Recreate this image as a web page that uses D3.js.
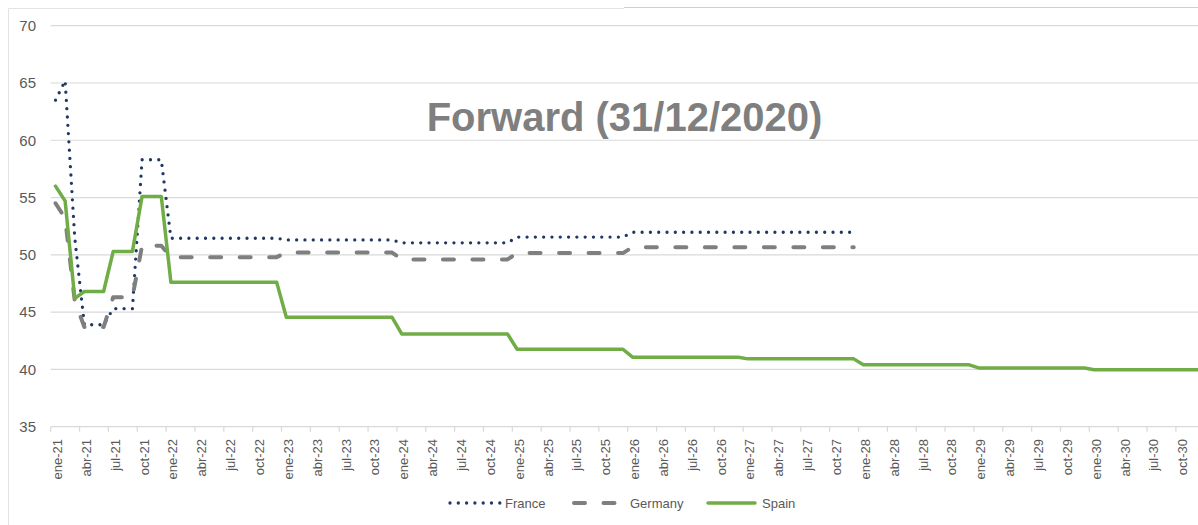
<!DOCTYPE html>
<html>
<head>
<meta charset="utf-8">
<script src="https://cdn.jsdelivr.net/npm/d3@7"></script>
<style>
  body { margin: 0; background: #fff; }
  svg { display: block; font-family: "Liberation Sans", Arial, sans-serif; }
</style>
</head>
<body>
<svg id="chart" width="1198" height="525"></svg>
<script>
// month names / years used for the category axis
var monthNames = ["ene","feb","mar","abr","may","jun","jul","ago","sep","oct","nov","dic"];
var years = ["21","22","23","24","25","26","27","28","29","30"];
var yTicks = [35, 40, 45, 50, 55, 60, 65, 70];

// forward prices, one value per month (ene-21 ...)
var france = [
  63.5, 65.2, 51.5, 43.9, 43.9, 43.9, 45.3, 45.3, 45.3, 58.3, 58.3, 58.3,
  51.45, 51.45, 51.45, 51.45, 51.45, 51.45, 51.45, 51.45, 51.45, 51.45, 51.45, 51.45,
  51.3, 51.3, 51.3, 51.3, 51.3, 51.3, 51.3, 51.3, 51.3, 51.3, 51.3, 51.3,
  51.05, 51.05, 51.05, 51.05, 51.05, 51.05, 51.05, 51.05, 51.05, 51.05, 51.05, 51.05,
  51.55, 51.55, 51.55, 51.55, 51.55, 51.55, 51.55, 51.55, 51.55, 51.55, 51.55, 51.55,
  51.97, 51.97, 51.97, 51.97, 51.97, 51.97, 51.97, 51.97, 51.97, 51.97, 51.97, 51.97,
  51.97, 51.97, 51.97, 51.97, 51.97, 51.97, 51.97, 51.97, 51.97, 51.97, 51.97, 51.97
];
var germany = [
  54.5, 53.2, 46.0, 43.7, 43.7, 43.7, 46.3, 46.3, 46.3, 50.8, 50.8, 50.8,
  49.8, 49.8, 49.8, 49.8, 49.8, 49.8, 49.8, 49.8, 49.8, 49.8, 49.8, 49.8,
  50.2, 50.2, 50.2, 50.2, 50.2, 50.2, 50.2, 50.2, 50.2, 50.2, 50.2, 50.2,
  49.6, 49.6, 49.6, 49.6, 49.6, 49.6, 49.6, 49.6, 49.6, 49.6, 49.6, 49.6,
  50.15, 50.15, 50.15, 50.15, 50.15, 50.15, 50.15, 50.15, 50.15, 50.15, 50.15, 50.15,
  50.67, 50.67, 50.67, 50.67, 50.67, 50.67, 50.67, 50.67, 50.67, 50.67, 50.67, 50.67,
  50.67, 50.67, 50.67, 50.67, 50.67, 50.67, 50.67, 50.67, 50.67, 50.67, 50.67, 50.67
];
var spain = [
  56.0, 54.7, 46.2, 46.8, 46.8, 46.8, 50.3, 50.3, 50.3, 55.1, 55.1, 55.1,
  47.6, 47.6, 47.6, 47.6, 47.6, 47.6, 47.6, 47.6, 47.6, 47.6, 47.6, 47.6,
  44.55, 44.55, 44.55, 44.55, 44.55, 44.55, 44.55, 44.55, 44.55, 44.55, 44.55, 44.55,
  43.1, 43.1, 43.1, 43.1, 43.1, 43.1, 43.1, 43.1, 43.1, 43.1, 43.1, 43.1,
  41.76, 41.76, 41.76, 41.76, 41.76, 41.76, 41.76, 41.76, 41.76, 41.76, 41.76, 41.76,
  41.07, 41.07, 41.07, 41.07, 41.07, 41.07, 41.07, 41.07, 41.07, 41.07, 41.07, 41.07,
  40.92, 40.92, 40.92, 40.92, 40.92, 40.92, 40.92, 40.92, 40.92, 40.92, 40.92, 40.92,
  40.4, 40.4, 40.4, 40.4, 40.4, 40.4, 40.4, 40.4, 40.4, 40.4, 40.4, 40.4,
  40.13, 40.13, 40.13, 40.13, 40.13, 40.13, 40.13, 40.13, 40.13, 40.13, 40.13, 40.13,
  39.97, 39.97, 39.97, 39.97, 39.97, 39.97, 39.97, 39.97, 39.97, 39.97, 39.97, 39.97
];

var categories = [];
years.forEach(function(yy){
  monthNames.forEach(function(m){ categories.push(m + "-" + yy); });
});

var width = 1198, height = 525;
var svg = d3.select("#chart");

// plot area (the right side is cut off in the original)
var left = 50.7, monthW = 9.617;
var x = d3.scaleBand().domain(categories).range([left, left + categories.length*monthW]).padding(0);
var y = d3.scaleLinear().domain([35, 70]).range([426.7, 25.7]);
var bw = x.bandwidth();

// outer frame
svg.append("path")
  .attr("d", "M8.5," + height + "V8.5H624")
  .attr("fill", "none").attr("stroke", "#e3e3e3").attr("stroke-width", 1);
svg.append("line")
  .attr("x1", 624).attr("x2", width).attr("y1", 7.5).attr("y2", 7.5)
  .attr("stroke", "#cfcfcf").attr("stroke-width", 1);

// gridlines
svg.append("g").selectAll("line")
  .data(yTicks.filter(function(t){ return t > 35; }))
  .enter().append("line")
    .attr("x1", left).attr("x2", width)
    .attr("y1", function(d){ return y(d); }).attr("y2", function(d){ return y(d); })
    .attr("stroke", "#d9d9d9").attr("stroke-width", 1.2);

// y labels
svg.append("g").selectAll("text")
  .data(yTicks)
  .enter().append("text")
    .attr("x", 36).attr("y", function(d){ return y(d); })
    .attr("dy", "0.35em").attr("text-anchor", "end")
    .attr("font-size", 15).attr("fill", "#595959")
    .text(function(d){ return d; });

// x axis line + tick marks every quarter
svg.append("line")
  .attr("x1", left).attr("x2", width).attr("y1", y(35)).attr("y2", y(35))
  .attr("stroke", "#d9d9d9").attr("stroke-width", 1.2);

var quarterCats = categories.filter(function(c, i){ return i % 3 == 0; });

svg.append("g").selectAll("line")
  .data(quarterCats)
  .enter().append("line")
    .attr("x1", function(d){ return x(d); }).attr("x2", function(d){ return x(d); })
    .attr("y1", y(35)).attr("y2", y(35) + 5)
    .attr("stroke", "#d9d9d9").attr("stroke-width", 1.2);

svg.append("g").selectAll("text")
  .data(quarterCats)
  .enter().append("text")
    .attr("transform", function(d){ return "translate(" + (x(d) + bw/2 + 2) + ",439) rotate(-90)"; })
    .attr("dy", "0.35em").attr("text-anchor", "end")
    .attr("font-size", 13).attr("fill", "#595959")
    .text(function(d){ return d; });

// title
svg.append("text")
  .attr("x", 624.5).attr("y", 131)
  .attr("text-anchor", "middle")
  .attr("font-size", 40).attr("font-weight", "bold").attr("fill", "#7f7f7f")
  .text("Forward (31/12/2020)");

// series
var line = d3.line()
  .x(function(d, i){ return x(categories[i]) + bw/2; })
  .y(function(d){ return y(d); });

var series = [
  {name: "France", values: france, color: "#1f3864", width: 3.3, dash: "0,8.3"},
  {name: "Germany", values: germany, color: "#7f7f7f", width: 4, dash: "11,18.5"},
  {name: "Spain", values: spain, color: "#70ad47", width: 3.5, dash: null}
];

series.forEach(function(s){
  svg.append("path")
    .datum(s.values)
    .attr("d", line)
    .attr("fill", "none")
    .attr("stroke", s.color)
    .attr("stroke-width", s.width)
    .attr("stroke-linecap", "round")
    .attr("stroke-linejoin", "round")
    .attr("stroke-dasharray", s.dash);
});

// legend
var legendPos = [
  {x1: 450, x2: 500, tx: 505},
  {x1: 574, x2: 624, tx: 630},
  {x1: 708, x2: 755, tx: 762}
];
var lg = svg.append("g");
series.forEach(function(s, i){
  var p = legendPos[i];
  lg.append("line")
    .attr("x1", p.x1).attr("x2", p.x2).attr("y1", 503).attr("y2", 503)
    .attr("stroke", s.color).attr("stroke-width", s.width)
    .attr("stroke-linecap", "round")
    .attr("stroke-dasharray", s.dash);
  lg.append("text")
    .attr("x", p.tx).attr("y", 503).attr("dy", "0.35em")
    .attr("font-size", 13).attr("fill", "#595959")
    .text(s.name);
});
</script>
</body>
</html>
